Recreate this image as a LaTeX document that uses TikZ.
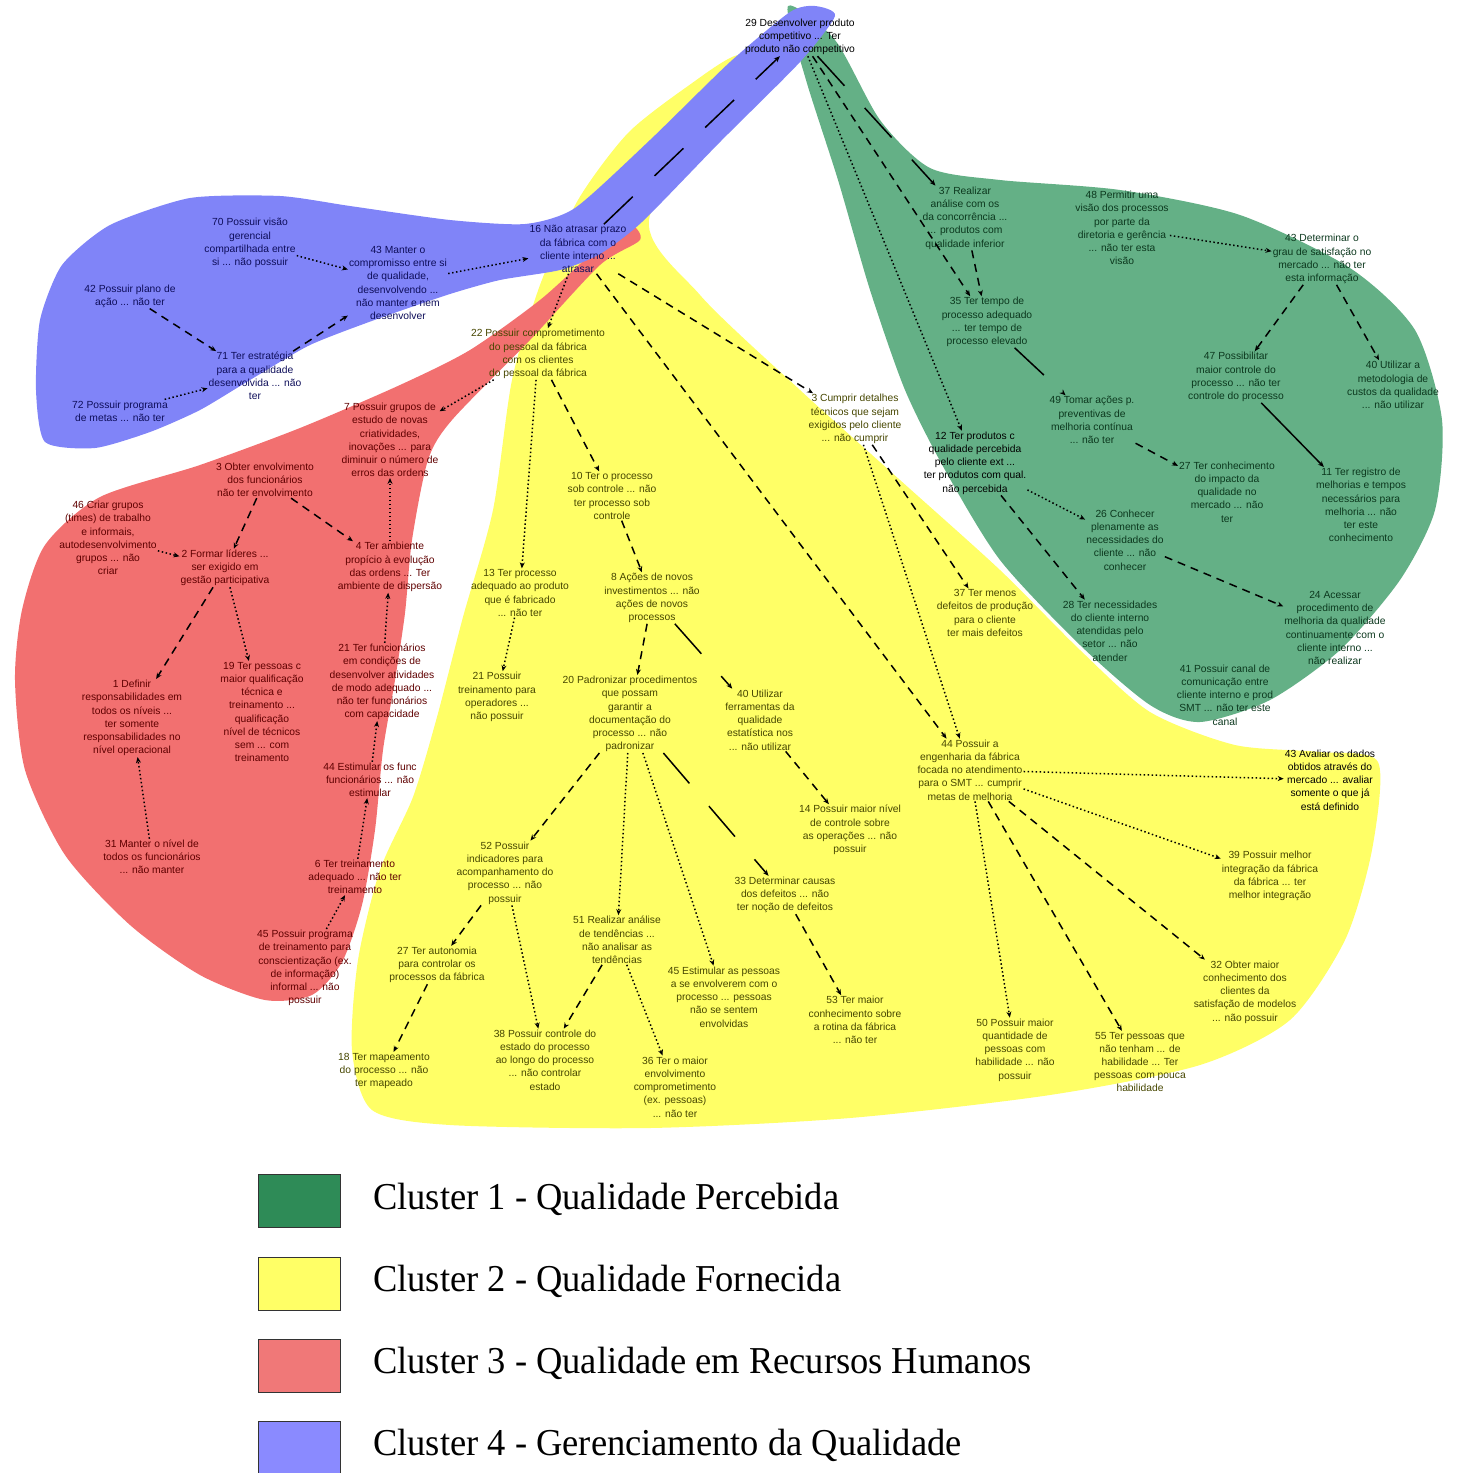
\documentclass[tikz,border=0pt]{standalone}
\usepackage{fontspec}
\setmainfont{Liberation Serif}
\newfontfamily\mapfont{Liberation Sans}
\usetikzlibrary{arrows.meta}

\definecolor{grfill}{RGB}{100,176,134}
\definecolor{yefill}{RGB}{255,255,102}
\definecolor{rdfill}{RGB}{242,112,112}
\definecolor{blfill}{RGB}{128,132,248}
\definecolor{grbox}{RGB}{46,139,87}
\definecolor{rdbox}{RGB}{240,120,120}
\definecolor{blbox}{RGB}{138,138,255}
\definecolor{grtxt}{RGB}{12,56,30}
\definecolor{yetxt}{RGB}{70,70,0}
\definecolor{rdtxt}{RGB}{95,0,0}
\definecolor{bltxt}{RGB}{14,14,90}

\begin{document}
\begin{tikzpicture}[x=1pt,y=-1pt,
 cpt/.style={align=center,inner sep=1pt,font=\mapfont\fontsize{10.3}{13.2}\selectfont},
 kcpt/.style={cpt,text=black},
 gcpt/.style={cpt,text=grtxt},
 ycpt/.style={cpt,text=yetxt},
 rcpt/.style={cpt,text=rdtxt},
 bcpt/.style={cpt,text=bltxt},
 lnk/.style={line width=1.5pt,-{Stealth[length=6pt,width=5pt]}},
 dotl/.style={lnk,dash pattern=on 1.5pt off 2.5pt},
 dashl/.style={lnk,dash pattern=on 8pt off 6pt},
 longl/.style={lnk,dash pattern=on 40pt off 30pt},
 legbox/.style={draw=black!80,line width=1pt,minimum width=82pt,minimum height=53pt,inner sep=0pt},
 legtxt/.style={anchor=base west,inner sep=0pt,font=\fontsize{38}{40}\selectfont}]
\useasboundingbox (0,0) rectangle (1461,1473);

% cluster areas
\fill[yefill] plot[smooth cycle,tension=.45] coordinates {(738,55) (772,72) (650,215) (700,295)
 (800,390) (900,480) (1000,570) (1080,650) (1150,712) (1235,745) (1320,752) (1378,762)
 (1372,850) (1345,940) (1290,1020) (1200,1065) (1050,1095) (850,1118) (650,1128) (450,1125)
 (372,1110) (352,1050) (358,960) (380,870) (413,797) (437,717) (463,617) (493,510) (512,380)
 (540,285) (578,200) (628,133) (688,86)};
\fill[rdfill] plot[smooth cycle,tension=.45] coordinates {(628,225) (640,240) (600,265) (530,340)
 (452,420) (428,460) (412,540) (405,613) (395,680) (383,750) (375,830) (362,905) (342,962)
 (312,995) (265,1000) (200,975) (130,925) (65,855) (25,770) (15,680) (22,610) (45,545)
 (100,497) (200,465) (300,428) (400,385) (470,350) (540,300) (590,255)};
\fill[grfill] plot[smooth cycle,tension=.45] coordinates {(788,6) (835,40) (880,120) (930,168)
 (1000,180) (1120,190) (1240,215) (1350,268) (1415,330) (1442,420) (1435,510) (1400,580)
 (1340,650) (1270,700) (1200,722) (1150,705) (1080,645) (1000,560) (945,470) (905,390)
 (870,290) (838,180) (806,80)};
\fill[blfill] plot[smooth cycle,tension=.4] coordinates {(815,6) (835,16) (800,62) (720,142)
 (642,222) (600,254) (560,270) (500,280) (450,294) (380,318) (310,345) (250,380) (200,410)
 (150,432) (95,448) (45,442) (36,390) (40,320) (62,265) (110,225) (190,198) (280,196)
 (350,206) (450,220) (525,224) (575,208) (650,140) (730,62) (790,12)};

% top concept
\node[kcpt] (t29) at (800,37) {29 Desenvolver produto\\competitivo ... Ter\\produto não competitivo};

% cluster 4
\node[bcpt] (b70) at (250,243) {70 Possuir visão\\gerencial\\compartilhada entre\\si ... não possuir};
\node[bcpt] (b42) at (130,296) {42 Possuir plano de\\ação ... não ter};
\node[bcpt] (b43) at (398,283) {43 Manter o\\compromisso entre si\\de qualidade,\\desenvolvendo ...\\não manter e nem\\desenvolver};
\node[bcpt] (b71) at (255,376) {71 Ter estratégia\\para a qualidade\\desenvolvida ... não\\ter};
\node[bcpt] (b72) at (120,411) {72 Possuir programa\\de metas ... não ter};
\node[bcpt] (b16) at (578,249) {16 Não atrasar prazo\\da fábrica com o\\cliente interno ...\\atrasar};

% cluster 1
\node[gcpt] (g37) at (965,218) {37 Realizar\\análise com os\\da concorrência ...\\... produtos com\\qualidade inferior};
\node[gcpt] (g48) at (1122,228) {48 Permitir uma\\visão dos processos\\por parte da\\diretoria e gerência\\... não ter esta\\visão};
\node[gcpt] (g43) at (1322,259) {43 Determinar o\\grau de satisfação no\\mercado ... não ter\\esta informação};
\node[gcpt] (g35) at (987,322) {35 Ter tempo de\\processo adequado\\... ter tempo de\\processo elevado};
\node[gcpt] (g47) at (1236,377) {47 Possibilitar\\maior controle do\\processo ... não ter\\controle do processo};
\node[gcpt] (g40) at (1393,385) {40 Utilizar a\\metodologia de\\custos da qualidade\\... não utilizar};
\node[gcpt] (g49) at (1092,420) {49 Tomar ações p.\\preventivas de\\melhoria contínua\\... não ter};
\node[kcpt] (g12) at (975,463) {12 Ter produtos c\\qualidade percebida\\pelo cliente ext ...\\ter produtos com qual.\\não percebida};
\node[gcpt] (g27) at (1227,492) {27 Ter conhecimento\\do impacto da\\qualidade no\\mercado ... não\\ter};
\node[gcpt] (g11) at (1361,505) {11 Ter registro de\\melhorias e tempos\\necessários para\\melhoria ... não\\ter este\\conhecimento};
\node[gcpt] (g26) at (1125,540) {26 Conhecer\\plenamente as\\necessidades do\\cliente ... não\\conhecer};
\node[gcpt] (g28) at (1110,631) {28 Ter necessidades\\do cliente interno\\atendidas pelo\\setor ... não\\atender};
\node[gcpt] (g24) at (1335,628) {24 Acessar\\procedimento de\\melhoria da qualidade\\continuamente com o\\cliente interno ...\\não realizar};
\node[gcpt] (g41) at (1225,695) {41 Possuir canal de\\comunicação entre\\cliente interno e prod\\SMT ... não ter este\\canal};

% cluster 2
\node[ycpt] (y37) at (985,613) {37 Ter menos\\defeitos de produção\\para o cliente\\ter mais defeitos};
\node[ycpt] (y3) at (855,419) {3 Cumprir detalhes\\técnicos que sejam\\exigidos pelo cliente\\... não cumprir};
\node[ycpt] (y22) at (538,354) {22 Possuir comprometimento\\do pessoal da fábrica\\com os clientes\\do pessoal da fábrica};
\node[ycpt] (y10) at (612,496) {10 Ter o processo\\sob controle ... não\\ter processo sob\\controle};
\node[ycpt] (y13) at (520,593) {13 Ter processo\\adequado ao produto\\que é fabricado\\... não ter};
\node[ycpt] (y8) at (652,598) {8 Ações de novos\\investimentos ... não\\ações de novos\\processos};
\node[ycpt] (y21) at (497,697) {21 Possuir\\treinamento para\\operadores ...\\não possuir};
\node[ycpt] (y20) at (630,714) {20 Padronizar procedimentos\\que possam\\garantir a\\documentação do\\processo ... não\\padronizar};
\node[ycpt] (y40) at (760,720) {40 Utilizar\\ferramentas da\\qualidade\\estatística nos\\... não utilizar};
\node[ycpt] (y44) at (970,770) {44 Possuir a\\engenharia da fábrica\\focada no atendimento\\para o SMT ... cumprir\\metas de melhoria};
\node[kcpt] (y43) at (1330,780) {43 Avaliar os dados\\obtidos através do\\mercado ... avaliar\\somente o que já\\está definido};
\node[ycpt] (y14) at (850,830) {14 Possuir maior nível\\de controle sobre\\as operações ... não\\possuir};
\node[ycpt] (y39) at (1270,876) {39 Possuir melhor\\integração da fábrica\\da fábrica ... ter\\melhor integração};
\node[ycpt] (y33) at (785,895) {33 Determinar causas\\dos defeitos ... não\\ter noção de defeitos};
\node[ycpt] (y52) at (505,873) {52 Possuir\\indicadores para\\acompanhamento do\\processo ... não\\possuir};
\node[ycpt] (y51) at (617,940) {51 Realizar análise\\de tendências ...\\não analisar as\\tendências};
\node[ycpt] (y27) at (437,965) {27 Ter autonomia\\para controlar os\\processos da fábrica};
\node[ycpt] (y45) at (724,997) {45 Estimular as pessoas\\a se envolverem com o\\processo ... pessoas\\não se sentem\\envolvidas};
\node[ycpt] (y53) at (855,1020) {53 Ter maior\\conhecimento sobre\\a rotina da fábrica\\... não ter};
\node[ycpt] (y18) at (384,1071) {18 Ter mapeamento\\do processo ... não\\ter mapeado};
\node[ycpt] (y38) at (545,1060) {38 Possuir controle do\\estado do processo\\ao longo do processo\\... não controlar\\estado};
\node[ycpt] (y36) at (675,1087) {36 Ter o maior\\envolvimento\\comprometimento\\(ex. pessoas)\\... não ter};
\node[ycpt] (y32) at (1245,992) {32 Obter maior\\conhecimento dos\\clientes da\\satisfação de modelos\\... não possuir};
\node[ycpt] (y50) at (1015,1050) {50 Possuir maior\\quantidade de\\pessoas com\\habilidade ... não\\possuir};
\node[ycpt] (y55) at (1140,1062) {55 Ter pessoas que\\não tenham ... de\\habilidade ... Ter\\pessoas com pouca\\habilidade};

% cluster 3
\node[rcpt] (r7) at (390,440) {7 Possuir grupos de\\estudo de novas\\criatividades,\\inovações ... para\\diminuir o número de\\erros das ordens};
\node[rcpt] (r3) at (265,480) {3 Obter envolvimento\\dos funcionários\\não ter envolvimento};
\node[rcpt] (r46) at (108,538) {46 Criar grupos\\(times) de trabalho\\e informais,\\autodesenvolvimento\\grupos ... não\\criar};
\node[rcpt] (r2) at (225,568) {2 Formar líderes ...\\ser exigido em\\gestão participativa};
\node[rcpt] (r4) at (390,567) {4 Ter ambiente\\propício à evolução\\das ordens ... Ter\\ambiente de dispersão};
\node[rcpt] (r1) at (132,718) {1 Definir\\responsabilidades em\\todos os níveis ...\\ter somente\\responsabilidades no\\nível operacional};
\node[rcpt] (r19) at (262,712) {19 Ter pessoas c\\maior qualificação\\técnica e\\treinamento ...\\qualificação\\nível de técnicos\\sem ... com\\treinamento};
\node[rcpt] (r21) at (382,682) {21 Ter funcionários\\em condições de\\desenvolver atividades\\de modo adequado ...\\não ter funcionários\\com capacidade};
\node[rcpt] (r44) at (370,780) {44 Estimular os func\\funcionários ... não\\estimular};
\node[rcpt] (r31) at (152,857) {31 Manter o nível de\\todos os funcionários\\... não manter};
\node[rcpt] (r6) at (355,877) {6 Ter treinamento\\adequado ... não ter\\treinamento};
\node[rcpt] (r45) at (305,968) {45 Possuir programa\\de treinamento para\\conscientização (ex.\\de informação)\\informal ... não\\possuir};

% links cluster 4
\draw[dotl] (b70) -- (b43);
\draw[dotl] (b43) -- (b16);
\draw[dashl] (b42) -- (b71);
\draw[dashl] (b71) -- (b43);
\draw[dotl] (b72) -- (b71);
\draw[longl] (b16) -- (t29);

% links cluster 1
\draw[longl] (t29) -- (g37);
\draw[dashl] (t29) -- (g35);
\draw[dotl] (t29) -- (g12);
\draw[dashl] (g37) -- (g35);
\draw[dotl] (g48) -- (g43);
\draw[dashl] (g43) -- (g47);
\draw[dashl] (g43) -- (g40);
\draw[longl] (g35) -- (g49);
\draw[lnk] (g47) -- (g11);
\draw[dashl] (g49) -- (g27);
\draw[dotl] (g12) -- (g26);
\draw[dashl] (g12) -- (g28);
\draw[dashl] (g26) -- (g24);

% links cluster 2
\draw[dotl] (b16) -- (y22);
\draw[dashl] (b16) -- (y44);
\draw[dashl] (b16) -- (y3);
\draw[dotl] (y22) -- (y13);
\draw[dashl] (y22) -- (y10);
\draw[dashl] (y10) -- (y8);
\draw[dashl] (y8) -- (y20);
\draw[longl] (y8) -- (y40);
\draw[dotl] (y13) -- (y21);
\draw[dashl] (y20) -- (y52);
\draw[dotl] (y20) -- (y51);
\draw[dotl] (y20) -- (y45);
\draw[longl] (y20) -- (y33);
\draw[dashl] (y52) -- (y27);
\draw[dotl] (y52) -- (y38);
\draw[dashl] (y51) -- (y38);
\draw[dotl] (y51) -- (y36);
\draw[dashl] (y27) -- (y18);
\draw[dashl] (y33) -- (y53);
\draw[dashl] (y40) -- (y14);
\draw[dotl] (y3) -- (y44);
\draw[dashl] (y3) -- (y37);
\draw[dotl] (y44) -- (y43);
\draw[dotl] (y44) -- (y39);
\draw[dashl] (y44) -- (y32);
\draw[dashl] (y44) -- (y55);
\draw[dotl] (y44) -- (y50);

% links cluster 3
\draw[dotl] (y22) -- (r7);
\draw[dashl] (r3) -- (r2);
\draw[dashl] (r3) -- (r4);
\draw[dotl] (r4) -- (r7);
\draw[dotl] (r46) -- (r2);
\draw[dashl] (r2) -- (r1);
\draw[dotl] (r2) -- (r19);
\draw[dotl] (r21) -- (r4);
\draw[dotl] (r44) -- (r21);
\draw[dotl] (r31) -- (r1);
\draw[dotl] (r6) -- (r44);
\draw[dotl] (r45) -- (r6);

% legend
\node[legbox,fill=grbox] (k1) at (299,1201) {};
\node[legbox,fill=yefill] (k2) at (299,1284) {};
\node[legbox,fill=rdbox] (k3) at (299,1366) {};
\node[legbox,fill=blbox] (k4) at (299,1448) {};
\node[legtxt] (l1) at (373,1209) {\scalebox{.96}[1]{Cluster 1 - Qualidade Percebida}};
\node[legtxt] (l2) at (373,1291) {\scalebox{.96}[1]{Cluster 2 - Qualidade Fornecida}};
\node[legtxt] (l3) at (373,1373) {\scalebox{.96}[1]{Cluster 3 - Qualidade em Recursos Humanos}};
\node[legtxt] (l4) at (373,1455) {\scalebox{.96}[1]{Cluster 4 - Gerenciamento da Qualidade}};
\end{tikzpicture}
\end{document}
